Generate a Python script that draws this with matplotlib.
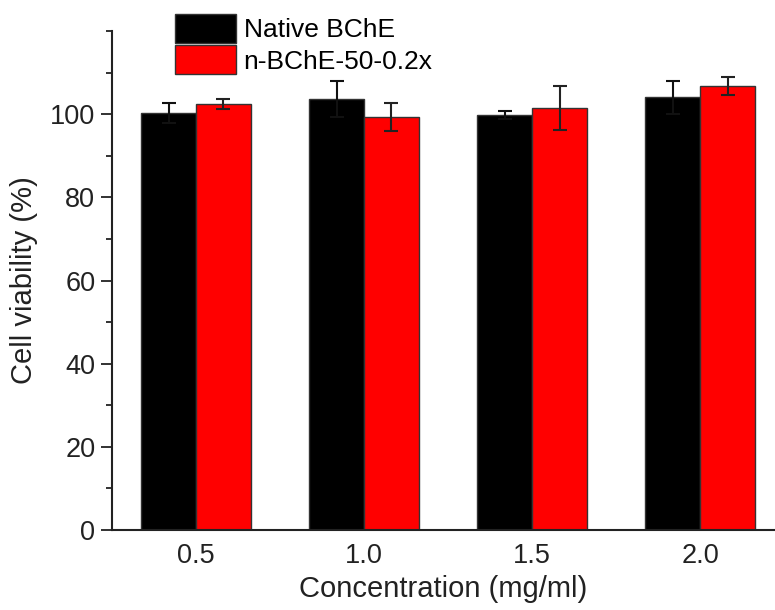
import matplotlib
matplotlib.use("Agg")
import matplotlib.pyplot as plt
from matplotlib.ticker import MultipleLocator
import numpy as np

plt.rcParams['font.family'] = ['Liberation Sans', 'DejaVu Sans']

categories = ["0.5", "1.0", "1.5", "2.0"]
native_vals = [100.2, 103.6, 99.8, 104.1]
native_err = [2.4, 4.3, 1.0, 4.0]
nb_vals = [102.5, 99.4, 101.6, 106.8]
nb_err = [1.2, 3.4, 5.3, 2.1]
series_labels = ["Native BChE", "n-BChE-50-0.2x"]

fig = plt.figure(figsize=(7.75, 6.1), dpi=100)
ax = fig.add_axes([0.1445, 0.1311, 0.8555, 0.818])

x = np.arange(len(categories))
w = 0.327
ax.bar(x - w / 2, native_vals, w, color="#000000", edgecolor="#333333", linewidth=1.0,
       label=series_labels[0], zorder=2)
ax.bar(x + w / 2, nb_vals, w, color="#ff0000", edgecolor="#333333", linewidth=1.0,
       label=series_labels[1], zorder=2)
ax.errorbar(x - w / 2, native_vals, yerr=native_err, fmt="none", ecolor="#111111",
            elinewidth=1.5, capsize=5, capthick=1.5, zorder=3)
ax.errorbar(x + w / 2, nb_vals, yerr=nb_err, fmt="none", ecolor="#222222",
            elinewidth=1.5, capsize=5, capthick=1.5, zorder=3)

ax.set_xlim(-0.5, 3.446)
ax.set_ylim(0, 120)
ax.set_xticks(x)
ax.set_xticklabels(categories)
ax.yaxis.set_major_locator(MultipleLocator(20))
ax.yaxis.set_minor_locator(MultipleLocator(10))
ax.set_yticks([0, 20, 40, 60, 80, 100])

for s in ["top", "right"]:
    ax.spines[s].set_visible(False)
for s in ["left", "bottom"]:
    ax.spines[s].set_linewidth(1.5)
    ax.spines[s].set_color("#222222")

ax.tick_params(axis="x", length=0, labelsize=19.5, pad=9, colors="#222222")
ax.tick_params(axis="y", which="major", direction="out", length=8, width=1.3,
               labelsize=19.5, pad=4, colors="#222222")
ax.tick_params(axis="y", which="minor", direction="out", length=4, width=1.3, colors="#222222")

ax.set_xlabel("Concentration (mg/ml)", fontsize=21, labelpad=5, color="#222222")
ax.set_ylabel("Cell viability (%)", fontsize=21, labelpad=9, color="#222222")

leg = ax.legend(loc="upper left", bbox_to_anchor=(175 / 775, 1 - 14 / 610),
                bbox_transform=fig.transFigure, frameon=False, fontsize=19,
                handlelength=2.3, handleheight=1.3, handletextpad=0.3,
                labelspacing=0.1, borderpad=0, borderaxespad=0)

fig.savefig("out.png", dpi=100)
